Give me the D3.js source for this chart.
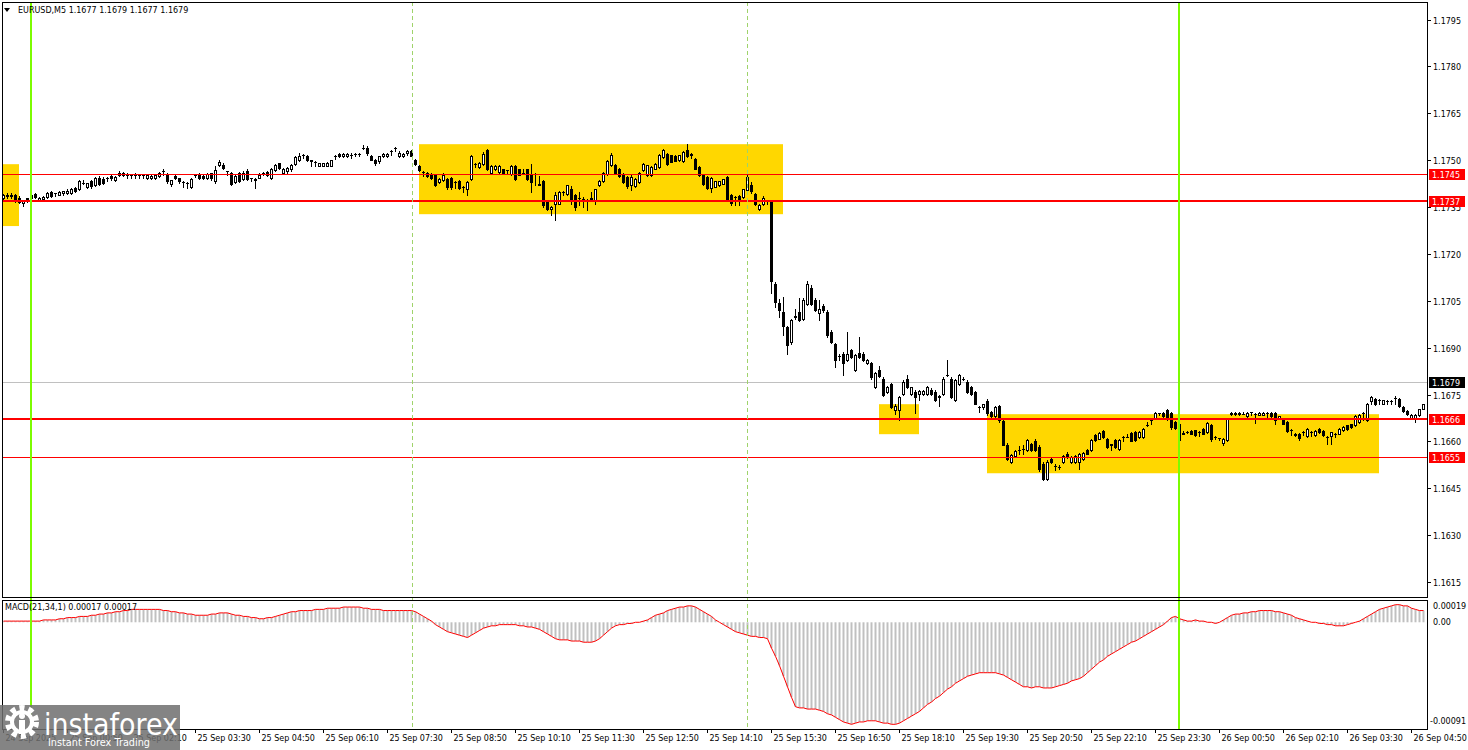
<!DOCTYPE html>
<html><head><meta charset="utf-8">
<script src="https://cdn.jsdelivr.net/npm/d3@7"></script>
<style>
html,body{margin:0;padding:0;background:#fff;overflow:hidden;}
svg{display:block;}
text{font-family:"DejaVu Sans",sans-serif;}
</style></head><body>
<svg id="c" width="1468" height="750"></svg>
<script>
// ---------------- DATA ----------------
const symbolTitle = "EURUSD,M5  1.1677 1.1679 1.1677 1.1679";
const macdTitle = "MACD(21,34,1) 0.00017 0.00017";

const opens = [
1.17380,1.17384,1.17386,1.17388,1.17378,1.17362,1.17376,1.17388,1.17392,1.17374,
1.17376,1.17382,1.17398,1.17394,1.17390,1.17394,1.17396,1.17396,1.17410,1.17408,
1.17428,1.17414,1.17434,1.17420,1.17442,1.17440,1.17442,1.17448,1.17436,1.17454,
1.17454,1.17454,1.17452,1.17454,1.17452,1.17452,1.17444,1.17444,1.17444,1.17450,
1.17464,1.17452,1.17424,1.17450,1.17442,1.17430,1.17428,1.17414,1.17454,1.17454,
1.17450,1.17442,1.17458,1.17432,1.17484,1.17484,1.17464,1.17458,1.17430,1.17458,
1.17440,1.17464,1.17442,1.17440,1.17444,1.17458,1.17462,1.17444,1.17468,1.17490,
1.17460,1.17464,1.17470,1.17488,1.17500,1.17518,1.17512,1.17500,1.17494,1.17482,
1.17482,1.17482,1.17482,1.17512,1.17520,1.17512,1.17512,1.17516,1.17520,1.17520,
1.17538,1.17540,1.17514,1.17502,1.17496,1.17512,1.17512,1.17528,1.17538,1.17512,
1.17512,1.17522,1.17528,1.17500,1.17481,1.17463,1.17460,1.17456,1.17454,1.17431,
1.17437,1.17441,1.17443,1.17431,1.17433,1.17414,1.17409,1.17441,1.17489,1.17479,
1.17489,1.17532,1.17459,1.17470,1.17463,1.17470,1.17468,1.17457,1.17481,1.17470,
1.17460,1.17470,1.17457,1.17457,1.17422,1.17433,1.17367,1.17345,1.17361,1.17361,
1.17399,1.17393,1.17409,1.17388,1.17380,1.17375,1.17372,1.17378,1.17372,1.17420,
1.17433,1.17457,1.17484,1.17484,1.17473,1.17457,1.17447,1.17420,1.17417,1.17431,
1.17468,1.17452,1.17452,1.17473,1.17479,1.17511,1.17521,1.17516,1.17513,1.17500,
1.17498,1.17532,1.17519,1.17505,1.17479,1.17452,1.17447,1.17410,1.17415,1.17420,
1.17425,1.17447,1.17388,1.17383,1.17385,1.17383,1.17404,1.17420,1.17393,1.17345,
1.17360,1.17369,1.17366,1.17103,1.17043,1.17015,1.16965,1.16919,1.16998,1.17015,
1.16993,1.17041,1.17090,1.17052,1.17011,1.17033,1.17015,1.16951,1.16911,1.16874,
1.16881,1.16862,1.16892,1.16828,1.16883,1.16881,1.16851,1.16851,1.16775,1.16830,
1.16801,1.16759,1.16783,1.16700,1.16700,1.16751,1.16801,1.16751,1.16759,1.16751,
1.16751,1.16751,1.16766,1.16759,1.16743,1.16751,1.16812,1.16801,1.16732,1.16783,
1.16800,1.16791,1.16773,1.16759,1.16711,1.16711,1.16730,1.16695,1.16680,1.16713,
1.16665,1.16590,1.16533,1.16553,1.16572,1.16575,1.16572,1.16591,1.16602,1.16583,
1.16529,1.16481,1.16545,1.16520,1.16519,1.16535,1.16561,1.16535,1.16535,1.16535,
1.16545,1.16572,1.16572,1.16620,1.16609,1.16634,1.16609,1.16591,1.16604,1.16575,
1.16615,1.16615,1.16627,1.16631,1.16615,1.16615,1.16652,1.16668,1.16673,1.16691,
1.16691,1.16700,1.16691,1.16663,1.16655,1.16625,1.16630,1.16633,1.16635,1.16630,
1.16640,1.16631,1.16652,1.16614,1.16610,1.16595,1.16604,1.16686,1.16686,1.16686,
1.16689,1.16681,1.16693,1.16689,1.16685,1.16685,1.16691,1.16691,1.16691,1.16673,
1.16668,1.16663,1.16638,1.16625,1.16623,1.16631,1.16617,1.16631,1.16620,1.16641,
1.16634,1.16615,1.16618,1.16625,1.16625,1.16636,1.16652,1.16655,1.16652,1.16663,
1.16692,1.16668,1.16730,1.16734,1.16732,1.16720,1.16730,1.16730,1.16740,1.16734,
1.16711,1.16698,1.16672,1.16672,1.16684,1.16705];

const highs = [
1.17392,1.17394,1.17394,1.17392,1.17384,1.17374,1.17380,1.17392,1.17396,1.17382,
1.17384,1.17398,1.17402,1.17396,1.17400,1.17402,1.17406,1.17410,1.17414,1.17436,
1.17436,1.17428,1.17438,1.17446,1.17448,1.17446,1.17446,1.17452,1.17450,1.17464,
1.17462,1.17458,1.17456,1.17458,1.17456,1.17456,1.17454,1.17452,1.17454,1.17462,
1.17470,1.17458,1.17438,1.17456,1.17444,1.17432,1.17430,1.17442,1.17456,1.17458,
1.17456,1.17460,1.17460,1.17482,1.17502,1.17490,1.17466,1.17462,1.17452,1.17462,
1.17464,1.17470,1.17444,1.17442,1.17458,1.17462,1.17464,1.17474,1.17488,1.17492,
1.17476,1.17478,1.17488,1.17514,1.17522,1.17520,1.17516,1.17502,1.17496,1.17492,
1.17492,1.17494,1.17502,1.17516,1.17524,1.17522,1.17522,1.17524,1.17522,1.17522,
1.17550,1.17544,1.17516,1.17504,1.17514,1.17524,1.17524,1.17532,1.17542,1.17528,
1.17522,1.17534,1.17534,1.17504,1.17484,1.17464,1.17463,1.17458,1.17456,1.17443,
1.17458,1.17444,1.17446,1.17433,1.17435,1.17416,1.17433,1.17518,1.17491,1.17493,
1.17526,1.17535,1.17483,1.17483,1.17483,1.17473,1.17469,1.17483,1.17484,1.17473,
1.17470,1.17473,1.17489,1.17459,1.17449,1.17436,1.17370,1.17353,1.17399,1.17402,
1.17401,1.17422,1.17418,1.17392,1.17399,1.17383,1.17377,1.17399,1.17409,1.17438,
1.17463,1.17502,1.17523,1.17487,1.17476,1.17460,1.17450,1.17452,1.17443,1.17463,
1.17491,1.17485,1.17481,1.17491,1.17521,1.17535,1.17524,1.17518,1.17516,1.17518,
1.17530,1.17553,1.17522,1.17508,1.17482,1.17455,1.17450,1.17447,1.17434,1.17434,
1.17441,1.17450,1.17391,1.17386,1.17388,1.17409,1.17463,1.17430,1.17396,1.17358,
1.17385,1.17372,1.17372,1.17110,1.17057,1.17063,1.16970,1.16993,1.17025,1.17060,
1.17058,1.17112,1.17100,1.17060,1.17052,1.17040,1.17020,1.16955,1.16915,1.16880,
1.16885,1.16951,1.16895,1.16880,1.16935,1.16885,1.16865,1.16855,1.16822,1.16840,
1.16805,1.16778,1.16788,1.16721,1.16745,1.16795,1.16812,1.16775,1.16765,1.16765,
1.16765,1.16776,1.16770,1.16763,1.16748,1.16805,1.16860,1.16805,1.16800,1.16815,
1.16806,1.16795,1.16777,1.16762,1.16713,1.16721,1.16735,1.16698,1.16713,1.16716,
1.16668,1.16595,1.16560,1.16572,1.16585,1.16590,1.16606,1.16595,1.16606,1.16588,
1.16533,1.16540,1.16550,1.16528,1.16526,1.16556,1.16565,1.16552,1.16556,1.16563,
1.16566,1.16575,1.16606,1.16623,1.16630,1.16637,1.16612,1.16593,1.16607,1.16606,
1.16617,1.16625,1.16630,1.16634,1.16634,1.16643,1.16663,1.16670,1.16693,1.16692,
1.16694,1.16703,1.16694,1.16666,1.16660,1.16634,1.16632,1.16636,1.16638,1.16632,
1.16643,1.16663,1.16656,1.16616,1.16612,1.16611,1.16672,1.16693,1.16693,1.16693,
1.16693,1.16693,1.16695,1.16691,1.16693,1.16693,1.16693,1.16694,1.16694,1.16681,
1.16670,1.16665,1.16640,1.16628,1.16626,1.16633,1.16643,1.16633,1.16636,1.16644,
1.16637,1.16617,1.16631,1.16627,1.16642,1.16648,1.16654,1.16657,1.16683,1.16686,
1.16695,1.16723,1.16745,1.16738,1.16734,1.16733,1.16732,1.16732,1.16744,1.16738,
1.16713,1.16700,1.16686,1.16686,1.16705,1.16721];

const lows = [
1.17374,1.17378,1.17380,1.17366,1.17362,1.17352,1.17366,1.17376,1.17380,1.17370,
1.17372,1.17378,1.17382,1.17386,1.17388,1.17390,1.17392,1.17392,1.17398,1.17404,
1.17424,1.17410,1.17412,1.17416,1.17420,1.17424,1.17432,1.17438,1.17434,1.17450,
1.17450,1.17444,1.17442,1.17444,1.17444,1.17442,1.17440,1.17440,1.17440,1.17446,
1.17454,1.17428,1.17418,1.17440,1.17428,1.17414,1.17410,1.17410,1.17446,1.17440,
1.17440,1.17440,1.17438,1.17428,1.17480,1.17470,1.17452,1.17420,1.17426,1.17430,
1.17436,1.17436,1.17434,1.17410,1.17442,1.17452,1.17450,1.17440,1.17464,1.17472,
1.17458,1.17460,1.17466,1.17484,1.17498,1.17506,1.17498,1.17480,1.17480,1.17480,
1.17480,1.17480,1.17480,1.17504,1.17510,1.17510,1.17510,1.17508,1.17512,1.17514,
1.17536,1.17518,1.17500,1.17486,1.17490,1.17510,1.17510,1.17518,1.17528,1.17510,
1.17510,1.17518,1.17512,1.17486,1.17465,1.17449,1.17447,1.17440,1.17416,1.17428,
1.17434,1.17409,1.17409,1.17411,1.17407,1.17399,1.17388,1.17438,1.17479,1.17476,
1.17486,1.17467,1.17456,1.17468,1.17460,1.17457,1.17457,1.17454,1.17438,1.17452,
1.17459,1.17438,1.17399,1.17420,1.17420,1.17351,1.17340,1.17324,1.17308,1.17358,
1.17388,1.17390,1.17361,1.17340,1.17356,1.17351,1.17340,1.17376,1.17361,1.17418,
1.17430,1.17454,1.17480,1.17455,1.17445,1.17428,1.17412,1.17404,1.17414,1.17428,
1.17465,1.17450,1.17450,1.17470,1.17476,1.17508,1.17486,1.17493,1.17496,1.17497,
1.17495,1.17510,1.17508,1.17470,1.17449,1.17422,1.17409,1.17399,1.17413,1.17418,
1.17423,1.17370,1.17356,1.17356,1.17356,1.17380,1.17401,1.17396,1.17356,1.17340,
1.17356,1.17361,1.17076,1.17031,1.16999,1.16940,1.16881,1.16910,1.16993,1.16985,
1.16990,1.17038,1.17038,1.17018,1.16988,1.17015,1.16935,1.16915,1.16839,1.16860,
1.16812,1.16858,1.16868,1.16825,1.16868,1.16858,1.16848,1.16800,1.16770,1.16805,
1.16745,1.16755,1.16708,1.16689,1.16668,1.16748,1.16770,1.16748,1.16691,1.16732,
1.16748,1.16748,1.16748,1.16730,1.16713,1.16748,1.16810,1.16740,1.16728,1.16780,
1.16795,1.16756,1.16748,1.16718,1.16695,1.16705,1.16684,1.16679,1.16673,1.16663,
1.16588,1.16540,1.16530,1.16550,1.16560,1.16560,1.16568,1.16570,1.16568,1.16505,
1.16475,1.16476,1.16530,1.16508,1.16510,1.16532,1.16546,1.16532,1.16530,1.16510,
1.16542,1.16558,1.16570,1.16600,1.16606,1.16612,1.16578,1.16572,1.16578,1.16572,
1.16602,1.16613,1.16600,1.16600,1.16612,1.16612,1.16650,1.16657,1.16670,1.16684,
1.16679,1.16668,1.16641,1.16640,1.16600,1.16623,1.16628,1.16622,1.16618,1.16617,
1.16622,1.16628,1.16602,1.16608,1.16604,1.16590,1.16602,1.16684,1.16684,1.16684,
1.16688,1.16679,1.16684,1.16660,1.16684,1.16684,1.16679,1.16679,1.16657,1.16672,
1.16655,1.16631,1.16620,1.16617,1.16604,1.16620,1.16615,1.16617,1.16618,1.16627,
1.16618,1.16593,1.16593,1.16615,1.16622,1.16634,1.16638,1.16643,1.16649,1.16660,
1.16668,1.16665,1.16721,1.16716,1.16721,1.16718,1.16721,1.16721,1.16719,1.16711,
1.16695,1.16684,1.16670,1.16663,1.16682,1.16703];

const closes = [
1.17388,1.17390,1.17390,1.17372,1.17366,1.17370,1.17378,1.17380,1.17382,1.17380,
1.17382,1.17394,1.17386,1.17396,1.17398,1.17400,1.17402,1.17406,1.17400,1.17432,
1.17428,1.17426,1.17416,1.17442,1.17424,1.17428,1.17444,1.17442,1.17446,1.17460,
1.17460,1.17454,1.17454,1.17452,1.17454,1.17452,1.17452,1.17450,1.17452,1.17458,
1.17466,1.17432,1.17436,1.17442,1.17432,1.17430,1.17426,1.17440,1.17454,1.17442,
1.17444,1.17456,1.17442,1.17468,1.17494,1.17474,1.17464,1.17424,1.17448,1.17434,
1.17460,1.17440,1.17442,1.17438,1.17454,1.17458,1.17454,1.17470,1.17484,1.17474,
1.17472,1.17474,1.17484,1.17510,1.17512,1.17518,1.17500,1.17498,1.17494,1.17490,
1.17490,1.17490,1.17500,1.17512,1.17512,1.17520,1.17520,1.17518,1.17520,1.17520,
1.17538,1.17522,1.17502,1.17492,1.17512,1.17520,1.17520,1.17528,1.17538,1.17524,
1.17520,1.17530,1.17514,1.17489,1.17468,1.17462,1.17450,1.17443,1.17420,1.17440,
1.17454,1.17414,1.17415,1.17430,1.17411,1.17413,1.17431,1.17513,1.17489,1.17491,
1.17521,1.17470,1.17481,1.17481,1.17481,1.17459,1.17468,1.17481,1.17441,1.17454,
1.17460,1.17441,1.17431,1.17455,1.17423,1.17356,1.17343,1.17350,1.17388,1.17399,
1.17398,1.17420,1.17372,1.17350,1.17378,1.17373,1.17370,1.17377,1.17407,1.17433,
1.17460,1.17497,1.17516,1.17460,1.17449,1.17431,1.17417,1.17447,1.17441,1.17460,
1.17489,1.17483,1.17479,1.17489,1.17518,1.17532,1.17489,1.17495,1.17498,1.17516,
1.17527,1.17513,1.17518,1.17473,1.17452,1.17425,1.17412,1.17444,1.17432,1.17432,
1.17439,1.17374,1.17362,1.17382,1.17370,1.17407,1.17447,1.17400,1.17361,1.17356,
1.17380,1.17369,1.17112,1.17047,1.17020,1.16969,1.16908,1.16990,1.17000,1.16988,
1.17052,1.17103,1.17041,1.17020,1.17025,1.17020,1.16940,1.16919,1.16860,1.16874,
1.16851,1.16881,1.16871,1.16876,1.16871,1.16862,1.16862,1.16807,1.16819,1.16809,
1.16748,1.16775,1.16711,1.16713,1.16743,1.16791,1.16775,1.16773,1.16743,1.16761,
1.16761,1.16773,1.16751,1.16732,1.16744,1.16801,1.16813,1.16743,1.16796,1.16812,
1.16801,1.16759,1.16751,1.16721,1.16710,1.16718,1.16690,1.16681,1.16710,1.16668,
1.16590,1.16545,1.16556,1.16570,1.16572,1.16576,1.16604,1.16572,1.16572,1.16510,
1.16481,1.16535,1.16535,1.16520,1.16519,1.16553,1.16549,1.16549,1.16553,1.16561,
1.16564,1.16561,1.16604,1.16604,1.16627,1.16615,1.16581,1.16590,1.16581,1.16604,
1.16614,1.16615,1.16602,1.16604,1.16631,1.16641,1.16652,1.16667,1.16691,1.16690,
1.16681,1.16670,1.16645,1.16642,1.16604,1.16626,1.16631,1.16625,1.16620,1.16630,
1.16625,1.16660,1.16606,1.16614,1.16610,1.16609,1.16670,1.16690,1.16690,1.16690,
1.16689,1.16690,1.16693,1.16688,1.16690,1.16690,1.16690,1.16681,1.16668,1.16680,
1.16657,1.16634,1.16637,1.16619,1.16610,1.16630,1.16641,1.16630,1.16634,1.16629,
1.16620,1.16614,1.16629,1.16624,1.16641,1.16646,1.16641,1.16645,1.16681,1.16684,
1.16690,1.16721,1.16741,1.16719,1.16731,1.16731,1.16730,1.16730,1.16740,1.16713,
1.16697,1.16686,1.16684,1.16684,1.16703,1.16718];

// MACD(21,34,1) per bar, in units of 0.00001
const macdE5 = [
1,1,1,1,1,1,1, 1,1,1,2,2,2,2, 3,3,4,4,4,5,5,5,6,6, 7,7,8,8,9,9,10,
10,11,11,11,11,11,11,11,11, 10,10,9,9,8,8,7,7,6,6, 6,6,7,7,8,8,8,
7,6,6,5,5,4,4,3,3, 4,4,5,6,7,8,9,9,10,10,10,10, 11,11,11,12,12,12,12,13,13,13,13,
13,12,12,11,11,11,10, 10,10,10,10,10,10,10, 9,7,5,3,1,-2,-4,
-6,-8,-9,-10,-11,-12,-13, -11,-9,-7,-5,-4, -3,-3,-2,-2,-2,-2, -2,-3,-3,-4,-4,-5,
-6,-8,-10,-12,-14,-15, -15,-15,-16,-16,-16,-17,-17, -17,-16,-14,-11,-8,-5,-3,
-2,-2,-1,-1,0,0, 1,2,4,6,7,8,10, 11,12,13,13,14,14, 13,11,9,7,5,2,
0,-2,-4,-6,-8,-9, -10,-11,-12,-12,-13,-13,-14, -22,-29,-37,-46,-55,-64,-72,
-73,-73,-74,-74,-74, -75,-76,-78,-79, -81,-83,-85,-86,-87, -86,-85,-85,-84,-84,-84,
-85,-86,-86,-87,-87, -86,-84,-82,-80,-78,-76,-73,-70, -68,-65,-63,-60,-57,-55,-52,
-50,-48,-46,-45,-44,-43, -43,-43,-43,-43,-44, -45,-47,-49,-51,-53,-55,
-55,-56,-55,-55,-56,-56,-56, -55,-54,-53,-52,-50,-49,-48, -46,-43,-40,-37,-34,-32,-29,
-27,-25,-23,-21,-19,-17,-16,-14, -12,-10,-8,-6,-4,-2,1,4, 5,3,2,1,1,2,1,
1,0,0,-1,0, 2,4,6,7,7,8,8, 9,9,10,10,10,10, 9,9,8,7,6,4,3,2,1,
0,0,-1,-1,-2,-2,-3,-3, -3,-2,-1,0,1, 3,5,7,9, 11,12,13,14,15,15, 14,14,12,11,10,10];

const priceTicks = [1.1615,1.1630,1.1645,1.1660,1.1675,1.1690,1.1705,1.1720,1.1735,1.1750,1.1765,1.1780,1.1795];
const priceTickLabels = ["1.1615","1.1630","1.1645","1.1660","1.1675","1.1690","1.1705","1.1720","1.1735","1.1750","1.1765","1.1780","1.1795"];
const macdTicks = [0.00019, 0.0, -0.00091];
const macdTickLabels = ["0.00019","0.00","-0.00091"];

const timeTickIdx = [0,16,32,48,64,80,96,112,128,144,160,176,192,208,224,240,256,272,288,304,320,336,352];
const timeTickLabels = ["24 Sep 2025","25 Sep 00:50","25 Sep 02:10","25 Sep 03:30","25 Sep 04:50","25 Sep 06:10",
 "25 Sep 07:30","25 Sep 08:50","25 Sep 10:10","25 Sep 11:30","25 Sep 12:50","25 Sep 14:10","25 Sep 15:30",
 "25 Sep 16:50","25 Sep 18:10","25 Sep 19:30","25 Sep 20:50","25 Sep 22:10","25 Sep 23:30","26 Sep 00:50",
 "26 Sep 02:10","26 Sep 03:30","26 Sep 04:50"];

const levelPrices = [1.17456, 1.17370, 1.16670, 1.16550];
const levelLabels = ["1.1745", "1.1737", "1.1666", "1.1655"];
const bidPrice = 1.16790;
const bidLabel = "1.1679";

const boxStart = [-0.25, 104, 219, 246];
const boxEnd   = [4, 195, 229, 344];
const boxHigh  = [1.17487, 1.17551, 1.16719, 1.16687];
const boxLow   = [1.17289, 1.17327, 1.16623, 1.16498];

const dayMarkIdx = [6.95, 293.9];      // day separators (green)
const sessionMarkIdx = [102.2, 186.1]; // dashed separators

// ---------------- CHART ----------------
const svg = d3.select("#c");
const L = 2, R = 1427, T = 2, MB = 597, MT = 600, BB = 729;
const N = closes.length;
const x = d3.scaleLinear().domain([0, 355]).range([3, 1423]);
const y = d3.scaleLinear().domain([1.16102, 1.18006]).range([597, 2]);
const ym = d3.scaleLinear().domain([-0.00091, 0.00019]).range([729, 600]);
const px = i => Math.round(x(i)) + 0.5;
const snap = v => Math.round(v) + 0.5;

const defs = svg.append("defs");
defs.append("clipPath").attr("id","cm").append("rect").attr("x",L).attr("y",T).attr("width",R-L).attr("height",MB-T);
defs.append("clipPath").attr("id","cd").append("rect").attr("x",L).attr("y",MT).attr("width",R-L).attr("height",BB-MT);

svg.append("rect").attr("width",1468).attr("height",750).attr("fill","#fff");

const gm = svg.append("g").attr("clip-path","url(#cm)");

// yellow zones
gm.selectAll("rect.box").data(boxStart).join("rect").attr("class","box")
  .attr("x",(d,i)=>x(boxStart[i])).attr("width",(d,i)=>x(boxEnd[i])-x(boxStart[i]))
  .attr("y",(d,i)=>y(boxHigh[i])).attr("height",(d,i)=>y(boxLow[i])-y(boxHigh[i]))
  .attr("fill","#FFD700");

// bid line
gm.append("line").attr("x1",L).attr("x2",R).attr("y1",snap(y(bidPrice))).attr("y2",snap(y(bidPrice)))
  .attr("stroke","#c0c0c0").attr("stroke-width",1);

// candles
const idx = d3.range(N);
const gc = gm.append("g");
gc.selectAll("line.wick").data(idx).join("line").attr("class","wick")
  .attr("x1",px).attr("x2",px)
  .attr("y1",i=>Math.round(y(highs[i]))).attr("y2",i=>Math.round(y(lows[i]))+1)
  .attr("stroke","#000").attr("stroke-width",1).attr("shape-rendering","crispEdges");
idx.forEach(i=>{
  const o=opens[i], c=closes[i];
  const top=Math.round(y(Math.max(o,c))), bot=Math.round(y(Math.min(o,c)));
  const cx=px(i);
  if (bot-top < 1) {
    gc.append("line").attr("x1",cx-1.5).attr("x2",cx+1.5).attr("y1",top+0.5).attr("y2",top+0.5)
      .attr("stroke","#000").attr("stroke-width",1).attr("shape-rendering","crispEdges");
  } else if (c > o) {
    gc.append("rect").attr("x",cx-1).attr("y",top+0.5).attr("width",2).attr("height",bot-top)
      .attr("fill","#fff").attr("stroke","#000").attr("stroke-width",1);
  } else {
    gc.append("rect").attr("x",cx-1.5).attr("y",top).attr("width",3).attr("height",bot-top+1)
      .attr("fill","#000").attr("shape-rendering","crispEdges");
  }
});

// level lines
const lvW = [1,2,2,1];
levelPrices.forEach((p,i)=>{
  const yy = lvW[i]===2 ? Math.round(y(p)) : snap(y(p));
  gm.append("line").attr("x1",L).attr("x2",R).attr("y1",yy).attr("y2",yy)
    .attr("stroke","#ff0000").attr("stroke-width",lvW[i]);
});

// MACD panel
const gd = svg.append("g").attr("clip-path","url(#cd)");
gd.selectAll("line.h").data(idx).join("line").attr("class","h")
  .attr("x1",px).attr("x2",px)
  .attr("y1",ym(0)).attr("y2",i=>ym(macdE5[i]*1e-5))
  .attr("stroke","#c0c0c0").attr("stroke-width",2);
gd.append("path").datum(idx)
  .attr("d", d3.line().x(i=>px(i)).y(i=>ym(macdE5[i]*1e-5)))
  .attr("fill","none").attr("stroke","#ff0000").attr("stroke-width",1);

// separators
sessionMarkIdx.forEach(v=>{
  svg.append("line").attr("x1",snap(x(v))).attr("x2",snap(x(v))).attr("y1",T).attr("y2",BB)
    .attr("stroke","#9fd36a").attr("stroke-width",1).attr("stroke-dasharray","4,3");
});
dayMarkIdx.forEach(v=>{
  svg.append("line").attr("x1",Math.round(x(v))).attr("x2",Math.round(x(v))).attr("y1",T).attr("y2",BB)
    .attr("stroke","#7CFC00").attr("stroke-width",2);
});

// frames
const fr = svg.append("g").attr("fill","none").attr("stroke","#000").attr("stroke-width",1).attr("shape-rendering","crispEdges");
fr.append("rect").attr("x",L+0.5).attr("y",T+0.5).attr("width",R-L).attr("height",MB-T);
fr.append("rect").attr("x",L+0.5).attr("y",MT+0.5).attr("width",R-L).attr("height",BB-MT);

// price axis
const ax = svg.append("g").attr("font-size","8px").attr("fill","#000");
priceTicks.forEach((p,i)=>{
  const yy=snap(y(p));
  ax.append("line").attr("x1",R).attr("x2",R+4).attr("y1",yy).attr("y2",yy).attr("stroke","#000");
  ax.append("text").attr("x",R+6).attr("y",yy+3).text(priceTickLabels[i]);
});
macdTicks.forEach((v,i)=>{
  let yy = ym(v);
  let ty = yy+3;
  if (i===0) ty = yy+9;
  if (i===2) ty = yy-5;
  ax.append("text").attr("x", v<0 ? R+3 : R+6).attr("y",ty).text(macdTickLabels[i]);
});

// level labels
function tag(p, lab, fill){
  const yy=y(p);
  svg.append("rect").attr("x",R+2).attr("y",Math.round(yy)-5).attr("width",36).attr("height",11).attr("fill",fill);
  svg.append("text").attr("x",R+5).attr("y",Math.round(yy)+4).attr("font-size","8px").attr("fill","#fff").text(lab);
}
levelPrices.forEach((p,i)=>tag(p, levelLabels[i], "#ff0000"));
tag(bidPrice, bidLabel, "#000");

// time axis
const tx = svg.append("g").attr("font-size","8px").attr("fill","#000");
timeTickIdx.forEach((k,i)=>{
  const xx=px(k);
  tx.append("line").attr("x1",xx).attr("x2",xx).attr("y1",BB).attr("y2",BB+4).attr("stroke","#000");
  tx.append("text").attr("x",xx+2).attr("y",741).text(timeTickLabels[i]);
});

// titles
svg.append("path").attr("d","M4,8 L10,8 L7,12 Z").attr("fill","#000");
svg.append("text").attr("x",18).attr("y",13).attr("font-size","8px").attr("fill","#000").text(symbolTitle);
svg.append("text").attr("x",5).attr("y",610).attr("font-size","8px").attr("fill","#000").text(macdTitle);

// watermark
const wm = svg.append("g");
wm.append("rect").attr("x",0).attr("y",705).attr("width",180).attr("height",45).attr("fill","#6f6f6f").attr("opacity",0.85);
wm.append("circle").attr("cx",22).attr("cy",722).attr("r",14).attr("fill","none").attr("stroke","#fff").attr("stroke-width",6).attr("stroke-dasharray","5,4");
wm.append("circle").attr("cx",22).attr("cy",722).attr("r",10).attr("fill","none").attr("stroke","#fff").attr("stroke-width",4);
wm.append("circle").attr("cx",22).attr("cy",716).attr("r",3).attr("fill","#fff");
wm.append("rect").attr("x",19).attr("y",720).attr("width",6).attr("height",14).attr("fill","#fff");
wm.append("text").attr("x",44).attr("y",735).attr("font-family","Open Sans, sans-serif").attr("font-size","30px")
  .attr("fill","#fff").attr("textLength",134).attr("lengthAdjust","spacingAndGlyphs").text("instaforex");
wm.append("text").attr("x",48).attr("y",746).attr("font-family","Open Sans, sans-serif").attr("font-size","11px")
  .attr("fill","#fff").attr("textLength",102).attr("lengthAdjust","spacingAndGlyphs").text("Instant Forex Trading");
</script>
</body></html>
